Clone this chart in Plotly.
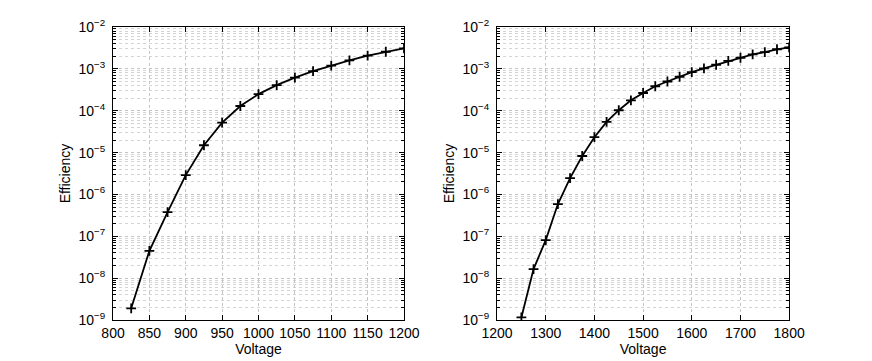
import plotly.graph_objects as go
from plotly.subplots import make_subplots

# left panel
voltage_a = [825, 850, 875, 900, 925, 950, 975, 1000, 1025, 1050, 1075, 1100, 1125, 1150, 1175, 1200]
eff_a = [1.9e-9, 4.5e-8, 3.8e-7, 2.9e-6, 1.5e-5, 5.2e-5, 1.3e-4, 2.5e-4, 4.1e-4, 6.2e-4,
         8.9e-4, 1.2e-3, 1.6e-3, 2.07e-3, 2.57e-3, 3.1e-3]

# right panel
voltage_b = [1250, 1275, 1300, 1325, 1350, 1375, 1400, 1425, 1450, 1475, 1500, 1525,
             1550, 1575, 1600, 1625, 1650, 1675, 1700, 1725, 1750, 1775, 1800]
eff_b = [1.15e-9, 1.65e-8, 8.1e-8, 5.9e-7, 2.45e-6, 8.3e-6, 2.34e-5, 5.4e-5, 1.03e-4,
         1.78e-4, 2.66e-4, 3.85e-4, 5.0e-4, 6.5e-4, 8.4e-4, 1.03e-3, 1.26e-3, 1.55e-3,
         1.85e-3, 2.23e-3, 2.53e-3, 2.95e-3, 3.27e-3]

exps = list(range(-9, -1))
ytickvals = [10.0 ** e for e in exps]
yticktext = ["10<sup>\u2212%d</sup>" % (-e) for e in exps]
yminor = [k * 10.0 ** e for e in exps[:-1] for k in range(2, 10)]

fig = make_subplots(rows=1, cols=2)

for col, (xv, yv) in enumerate([(voltage_a, eff_a), (voltage_b, eff_b)], start=1):
    fig.add_trace(go.Scatter(
        x=xv, y=yv, mode="lines+markers",
        line=dict(color="black", width=1.8),
        marker=dict(symbol="cross-thin", size=7, line=dict(color="black", width=1.8)),
        showlegend=False), row=1, col=col)

axis_font = dict(family="Liberation Sans, Arial, sans-serif", size=14, color="black")
common = dict(showline=True, linecolor="black", linewidth=1, mirror="ticks",
              ticks="inside", ticklen=5, tickcolor="black", automargin=False,
              showgrid=True, gridcolor="#c4c4c4", griddash="dot", gridwidth=1,
              zeroline=False, tickfont=axis_font)

fig.update_xaxes(**common, title=dict(text="Voltage", font=axis_font, standoff=0))
fig.update_xaxes(range=[800, 1200], dtick=50, tick0=800, domain=[0.1296, 0.4633], row=1, col=1)
fig.update_xaxes(range=[1200, 1800], dtick=100, tick0=1200, domain=[0.570, 0.905], row=1, col=2)

fig.update_yaxes(**common, type="log", range=[-9, -2],
                 tickvals=ytickvals, ticktext=yticktext, ticklabelstandoff=4,
                 minor=dict(tickvals=yminor, showgrid=True, gridcolor="#d4d4d4",
                            griddash="dot", ticks="inside", ticklen=3, tickcolor="black"),
                 title=dict(text="Efficiency", font=axis_font, standoff=4),
                 domain=[0.1136, 0.925])

fig.update_layout(width=872, height=361, plot_bgcolor="white", paper_bgcolor="white",
                  margin=dict(l=0, r=0, t=0, b=0),
                  font=axis_font)

# drop the default page margin so the figure sits at the window origin
fig.write_html("out.html", config={"displayModeBar": False},
               post_script="document.body.style.margin='0px';document.body.style.overflow='hidden';")
